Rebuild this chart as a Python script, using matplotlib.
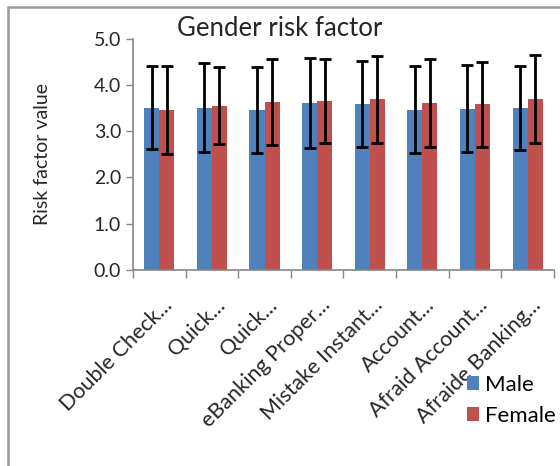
import numpy as np
import matplotlib.pyplot as plt
from matplotlib.patches import Rectangle

categories = ["Double Check...", "Quick...", "Quick...", "eBanking Proper...",
              "Mistake Instant...", "Account...", "Afraid Account...", "Afraide Banking..."]
male_mean = [3.51, 3.51, 3.46, 3.61, 3.58, 3.46, 3.49, 3.51]
male_sd = [0.89, 0.97, 0.93, 0.98, 0.93, 0.94, 0.94, 0.91]
female_mean = [3.46, 3.55, 3.64, 3.65, 3.69, 3.61, 3.58, 3.69]
female_sd = [0.96, 0.83, 0.93, 0.90, 0.94, 0.96, 0.92, 0.95]

plt.rcParams['font.family'] = ['Lato', 'DejaVu Sans']

fig = plt.figure(figsize=(5.6, 4.66), dpi=100)
ax = fig.add_axes([0.2375, 0.4206, 0.7515, 0.4964])

x = np.arange(len(categories))
w = 1 / 3.5
err_kw = dict(ecolor='black', elinewidth=2, capsize=4, capthick=2)
ax.bar(x - w / 2, male_mean, w, yerr=male_sd, color='#4F81BD', label='Male', error_kw=err_kw)
ax.bar(x + w / 2, female_mean, w, yerr=female_sd, color='#C0504D', label='Female', error_kw=err_kw)

ax.set_xlim(-0.5, len(categories) - 0.5)
ax.set_ylim(0, 5)
yt = np.arange(0, 5.1, 1.0)
ax.set_yticks(yt)
ax.set_yticklabels([f"{v:.1f}" for v in yt], fontsize=14)
ax.set_xticks(np.arange(-0.5, len(categories), 1.0))
ax.set_xticklabels([])
ax.tick_params(axis='both', colors='#868686', length=5, width=1, labelcolor='#262626')
ax.tick_params(axis='x', length=6)
for s in ['top', 'right']:
    ax.spines[s].set_visible(False)
for s in ['left', 'bottom']:
    ax.spines[s].set_color('#868686')
    ax.spines[s].set_linewidth(1.2)

for i, lab in enumerate(categories):
    ax.annotate(lab, xy=(i, 0), xycoords=('data', 'axes fraction'),
                xytext=(7, -23), textcoords='offset points',
                rotation=45, ha='right', va='center', rotation_mode='anchor',
                fontsize=15.5, color='#262626')

ax.set_ylabel('Risk factor value', fontsize=14, color='#262626')
ax.yaxis.set_label_coords(-0.195, 0.5)
fig.text(0.5, 0.938, 'Gender risk factor', ha='center', va='center', fontsize=18.5, color='#262626')

fig.legend(loc='upper left', bbox_to_anchor=(0.834, 0.196), frameon=False,
           fontsize=16, handlelength=0.55, handleheight=0.6, handletextpad=0.25,
           labelspacing=0.5, borderaxespad=0, borderpad=0)

fig.patches.append(Rectangle((0.015, -0.05), 1.1, 1.035, transform=fig.transFigure,
                             fill=False, edgecolor='#9A9A9A', linewidth=1.8))

fig.savefig('out.png', dpi=100)
